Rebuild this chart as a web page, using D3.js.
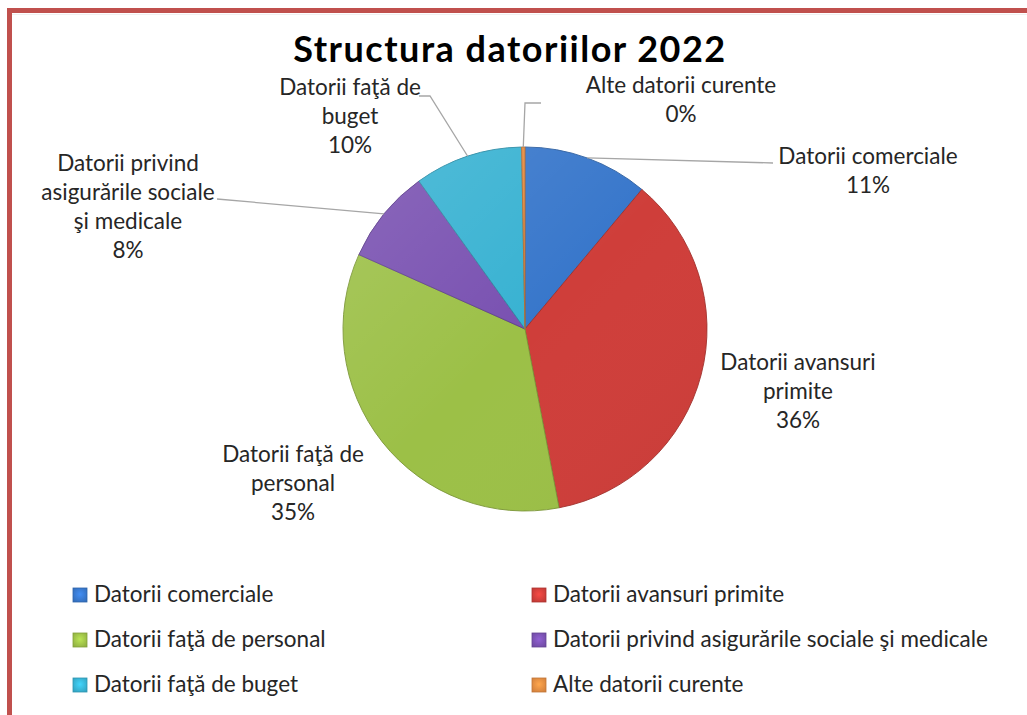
<!DOCTYPE html>
<html>
<head>
<meta charset="utf-8">
<script src="https://cdn.jsdelivr.net/npm/d3@7/dist/d3.min.js"></script>
<style>
  html, body { margin: 0; padding: 0; background: #ffffff; }
  svg { display: block; }
  text { font-family: Lato, "Open Sans", sans-serif; }
</style>
</head>
<body>
<svg id="chart" width="1027" height="715"></svg>
<script>
// ---- data ----
const categories = [
  "Datorii comerciale",
  "Datorii avansuri primite",
  "Datorii faţă de personal",
  "Datorii privind asigurările sociale şi medicale",
  "Datorii faţă de buget",
  "Alte datorii curente"
];
const shares = [11.1, 35.9, 34.7, 8.4, 9.6, 0.3];
const labelLines = [
  ["Datorii comerciale"],
  ["Datorii avansuri", "primite"],
  ["Datorii faţă de", "personal"],
  ["Datorii privind", "asigurările sociale", "şi medicale"],
  ["Datorii faţă de", "buget"],
  ["Alte datorii curente"]
];
const colors = ["#3c80da", "#de433e", "#a8ce4c", "#8257be", "#3cbfe2", "#f79646"];
const titleText = "Structura datoriilor 2022";

// ---- layout ----
const W = 1027, H = 715;
const cx = 525, cy = 329, R = 182;
const labelPos = [
  {x: 868, y: 164},
  {x: 798, y: 370},
  {x: 293, y: 462},
  {x: 128, y: 171},
  {x: 350, y: 95},
  {x: 681, y: 93}
];
const lineH = 29;
const leaders = [
  [[773, 163]],
  null,
  null,
  [[217, 199]],
  [[430, 96], [419, 96]],
  [[525, 103], [541, 103]]
];

const svg = d3.select("#chart");
const defs = svg.append("defs");

// frame
svg.append("rect").attr("x", 7).attr("y", 8).attr("width", W - 7).attr("height", 5).attr("fill", "#c0504d");
svg.append("rect").attr("x", 7).attr("y", 8).attr("width", 5).attr("height", H - 8).attr("fill", "#c0504d");
svg.append("line").attr("x1", 12).attr("x2", W).attr("y1", 14.5).attr("y2", 14.5).attr("stroke", "#f0f0f0").attr("stroke-width", 1);

// title
svg.append("text")
  .attr("x", 510).attr("y", 62)
  .attr("text-anchor", "middle")
  .attr("font-size", 36).attr("font-weight", "bold")
  .attr("letter-spacing", 1.5)
  .attr("fill", "#000")
  .text(titleText);

const pie = d3.pie().sort(null).value(d => d).startAngle(0).endAngle(2 * Math.PI);
const arcs = pie(shares);
const total = d3.sum(shares);
const arc = d3.arc().innerRadius(0).outerRadius(R);

// per-slice gradients (bevel-like)
colors.forEach((c, i) => {
  const g = defs.append("radialGradient").attr("id", "sg" + i)
    .attr("gradientUnits", "userSpaceOnUse")
    .attr("cx", cx).attr("cy", cy).attr("r", R);
  const base = d3.color(c);
  g.append("stop").attr("offset", "0%").attr("stop-color", base);
  g.append("stop").attr("offset", "90%").attr("stop-color", base);
  g.append("stop").attr("offset", "100%").attr("stop-color", base.darker(0.2));
});

const pieG = svg.append("g").attr("transform", `translate(${cx},${cy})`);
pieG.selectAll("path.slice")
  .data(arcs)
  .join("path")
  .attr("class", "slice")
  .attr("d", arc)
  .attr("fill", (d, i) => `url(#sg${i})`)
  .attr("stroke", (d, i) => d3.color(colors[i]).darker(0.9))
  .attr("stroke-width", 0.9)
  .attr("stroke-linejoin", "round");

// light highlight overlay (top-left)
const hl = defs.append("linearGradient").attr("id", "hl")
  .attr("x1", "0%").attr("y1", "0%").attr("x2", "100%").attr("y2", "100%");
hl.append("stop").attr("offset", "0%").attr("stop-color", "#fff").attr("stop-opacity", 0.14);
hl.append("stop").attr("offset", "50%").attr("stop-color", "#fff").attr("stop-opacity", 0);
hl.append("stop").attr("offset", "100%").attr("stop-color", "#000").attr("stop-opacity", 0.04);
pieG.append("circle").attr("r", R).attr("fill", "url(#hl)").attr("pointer-events", "none");

// leader lines
arcs.forEach((a, i) => {
  if (!leaders[i]) return;
  const mid = (a.startAngle + a.endAngle) / 2;
  const start = [cx + R * Math.sin(mid), cy - R * Math.cos(mid)];
  const pts = [start].concat(leaders[i]);
  svg.append("path")
    .attr("d", d3.line()(pts))
    .attr("fill", "none")
    .attr("stroke", "#a6a6a6")
    .attr("stroke-width", 1.3);
});

// data labels
arcs.forEach((a, i) => {
  const lines = labelLines[i].concat([Math.round(a.data / total * 100) + "%"]);
  const t = svg.append("text")
    .attr("text-anchor", "middle")
    .attr("font-size", 22.5)
    .attr("fill", "#262626");
  lines.forEach((ln, k) => {
    t.append("tspan").attr("x", labelPos[i].x).attr("y", labelPos[i].y + k * lineH).text(ln);
  });
});

// legend
const legCols = [73, 532];
const legRows = [602, 647, 692];
categories.forEach((c, i) => {
  const x = legCols[i % 2], y = legRows[Math.floor(i / 2)];
  const lg = defs.append("radialGradient").attr("id", "lg" + i)
    .attr("cx", "50%").attr("cy", "45%").attr("r", "70%");
  lg.append("stop").attr("offset", "0%").attr("stop-color", d3.color(colors[i]).brighter(0.3));
  lg.append("stop").attr("offset", "100%").attr("stop-color", d3.color(colors[i]).darker(0.5));
  svg.append("rect")
    .attr("x", x).attr("y", y - 14).attr("width", 14).attr("height", 14)
    .attr("fill", `url(#lg${i})`)
    .attr("stroke", d3.color(colors[i]).darker(0.7)).attr("stroke-width", 0.8);
  svg.append("text")
    .attr("x", x + 21).attr("y", y)
    .attr("font-size", 22.5)
    .attr("fill", "#262626")
    .text(c);
});
</script>
</body>
</html>
